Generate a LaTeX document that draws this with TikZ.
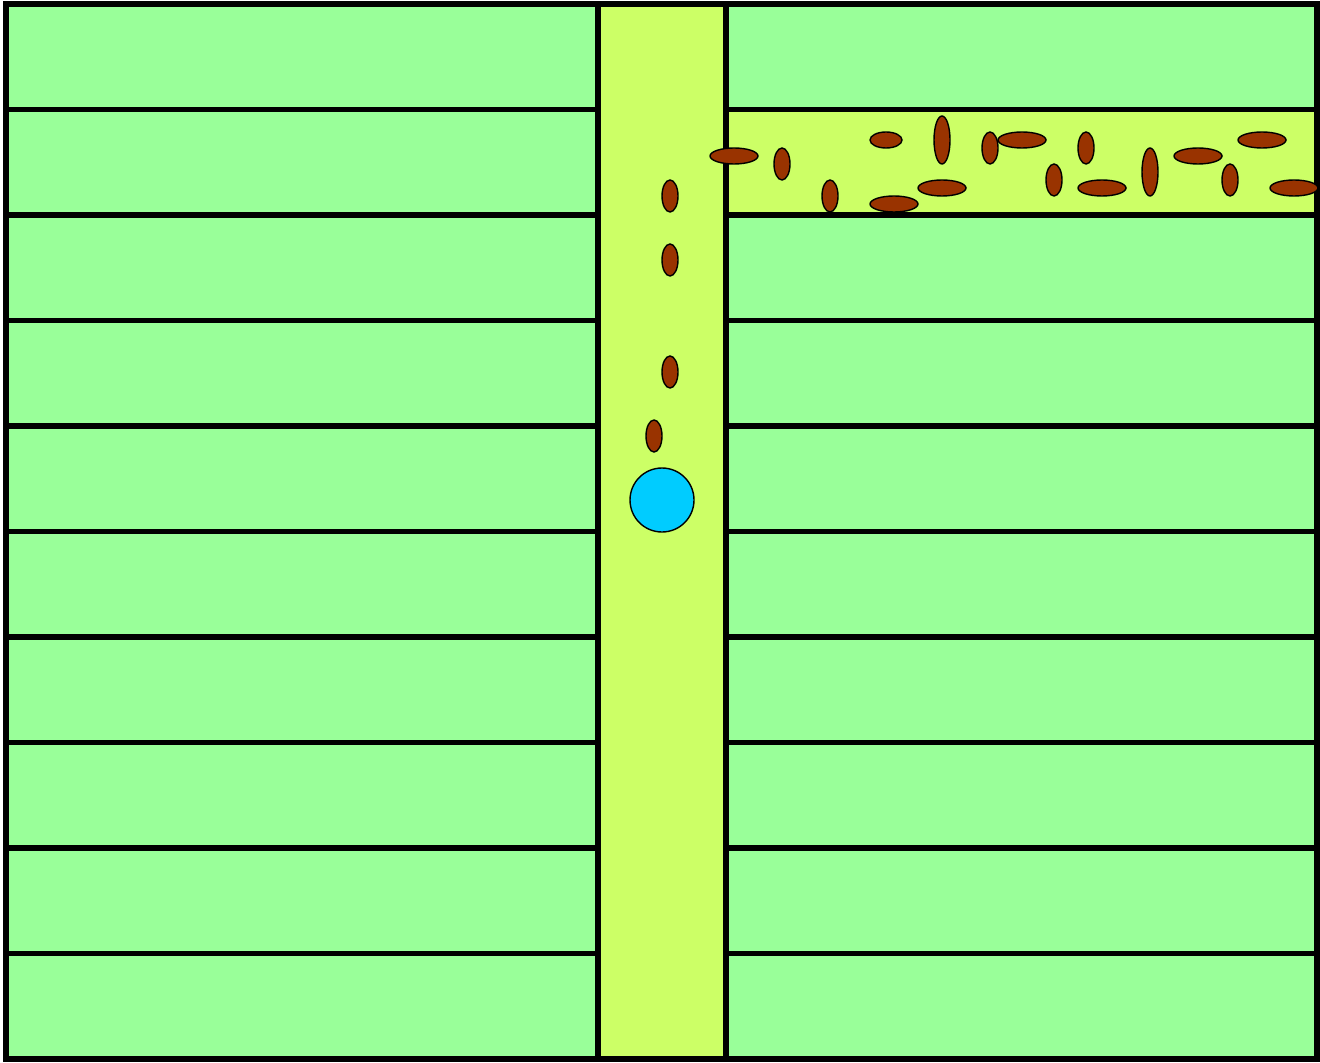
\documentclass[tikz,border=0pt]{standalone}
\usepackage{xcolor}
\usepackage{tikz}
\definecolor{fieldgreen}{HTML}{99FF99}
\definecolor{laneyellow}{HTML}{CCFF66}
\definecolor{seedbrown}{HTML}{993300}
\definecolor{ballcyan}{HTML}{00CCFF}
\tikzset{
  wall/.style={line width=2.9pt, line cap=rect},
  seed/.style={draw=black, fill=seedbrown, line width=0.7pt},
  ball/.style={draw=black, fill=ballcyan, line width=0.7pt},
}

\begin{document}
\begin{tikzpicture}[x=0.5pt, y=-0.5pt]
  \useasboundingbox (0,0) rectangle (1320,1063);
  % plots and lane
  \fill[fieldgreen] (6,4) rectangle (598,1059);
  \fill[fieldgreen] (726,4) rectangle (1317,1059);
  \fill[laneyellow] (598,4) rectangle (726,1059);
  \fill[laneyellow] (726,109.5) rectangle (1317,215);
  % row dividers
  \foreach \i in {1,...,9} {
    \draw[wall] (6,4+105.5*\i) -- (598,4+105.5*\i);
    \draw[wall] (726,4+105.5*\i) -- (1317,4+105.5*\i);
  }
  \draw[wall] (598,4) -- (598,1059);
  \draw[wall] (726,4) -- (726,1059);
  \draw[wall] (6,4) rectangle (1317,1059);
  % seeds, lying
  \foreach \x/\y in {734/156, 894/204, 942/188, 1022/140, 1102/188, 1198/156, 1262/140, 1294/188}
    \draw[seed] (\x,\y) ellipse [x radius=24, y radius=8];
  \draw[seed] (886,140) ellipse [x radius=16, y radius=8];
  % seeds, standing
  \foreach \x/\y in {670/196, 670/260, 670/372, 654/436, 782/164, 830/196, 990/148, 1054/180, 1086/148, 1230/180}
    \draw[seed] (\x,\y) ellipse [x radius=8, y radius=16];
  \foreach \x/\y in {942/140, 1150/172}
    \draw[seed] (\x,\y) ellipse [x radius=8, y radius=24];
  % ball
  \draw[ball] (662,500) circle [radius=32];
\end{tikzpicture}
\end{document}
